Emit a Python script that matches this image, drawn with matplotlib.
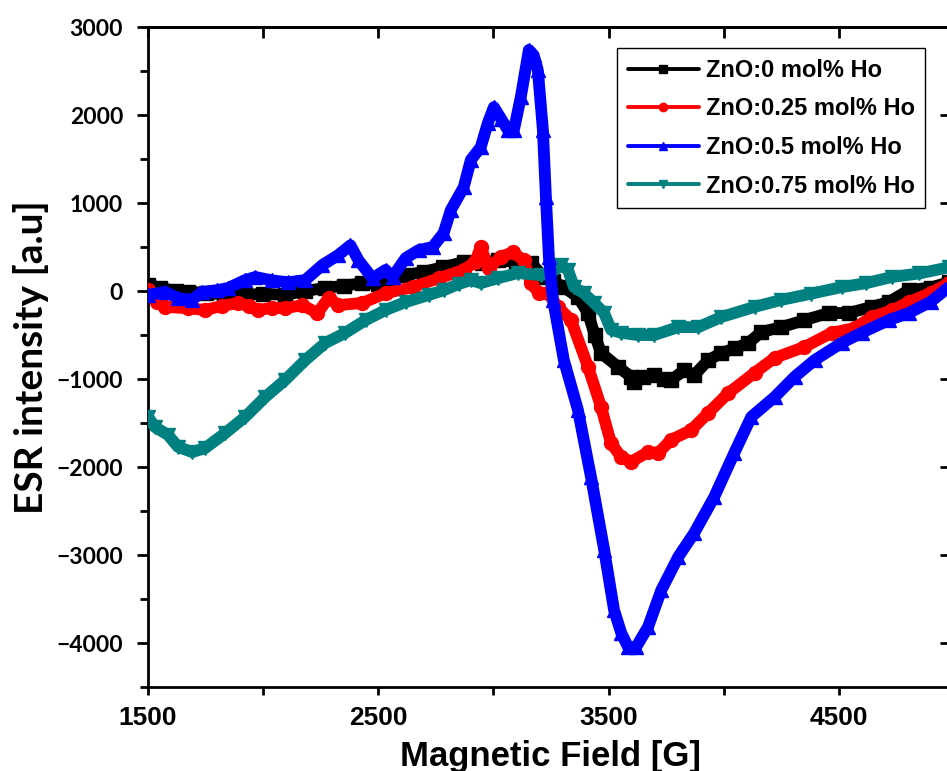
import matplotlib
matplotlib.use("Agg")
import matplotlib.pyplot as plt
from matplotlib.ticker import MultipleLocator, FixedLocator

# ESR spectra, values
x_0 = [1500, 1550, 1620, 1674, 1750, 1830, 1922, 2000, 2096, 2180, 2270, 2350,
       2431, 2500, 2560, 2619, 2700, 2780, 2871, 2950, 3019, 3100, 3163, 3219,
       3260, 3306, 3367, 3411, 3440, 3468, 3541, 3598, 3611, 3650, 3698, 3740,
       3772, 3829, 3872, 3933, 3990, 4050, 4107, 4164, 4251, 4351, 4456, 4543,
       4643, 4717, 4804, 4900, 4978]
y_0 = [70, 40, 0, -10, -20, -40, -45, -30, -45, 0, 35, 60,
       90, 80, 130, 180, 220, 270, 330, 320, 350, 330, 320, 160,
       110, 45, -70, -250, -500, -705, -860, -975, -1035, -980, -955, -1000,
       -1010, -900, -955, -785, -705, -650, -590, -465, -410, -330, -250, -250,
       -180, -125, 10, 40, 100]

x_25 = [1500, 1540, 1574, 1674, 1748, 1820, 1892, 1940, 1979, 2040, 2096, 2170,
        2236, 2284, 2327, 2431, 2532, 2649, 2762, 2871, 2920, 2945, 2980, 3032,
        3084, 3132, 3163, 3198, 3237, 3280, 3337, 3411, 3468, 3511, 3555, 3598,
        3672, 3716, 3772, 3859, 3933, 4020, 4134, 4221, 4351, 4469, 4569, 4643,
        4730, 4804, 4900, 4978]
y_25 = [10, -120, -180, -195, -215, -170, -135, -170, -215, -190, -195, -160,
        -250, -80, -160, -135, -25, 45, 145, 240, 330, 500, 260, 390,
        440, 350, 90, -25, -25, -180, -330, -860, -1320, -1730, -1885, -1940,
        -1830, -1840, -1690, -1580, -1385, -1160, -930, -760, -635, -475, -420, -295,
        -220, -125, -20, 90]

x_50 = [1500, 1574, 1630, 1692, 1735, 1800, 1848, 1922, 1966, 2040, 2109, 2183,
        2257, 2327, 2379, 2414, 2475, 2532, 2562, 2619, 2675, 2736, 2784, 2815,
        2871, 2902, 2945, 2976, 3002, 3035, 3063, 3089, 3119, 3154, 3175, 3193,
        3215, 3228, 3241, 3259, 3306, 3367, 3424, 3481, 3524, 3555, 3585, 3620,
        3672, 3729, 3803, 3872, 3959, 4046, 4120, 4221, 4308, 4395, 4512, 4599,
        4717, 4804, 4900, 4978]
y_50 = [-45, -10, -80, -100, -10, 10, 35, 125, 160, 120, 100, 125,
        295, 410, 520, 350, 145, 240, 160, 375, 465, 500, 660, 920,
        1180, 1490, 1635, 1910, 2090, 1950, 1830, 1830, 2205, 2740, 2680, 2510,
        1830, 1070, 385, -100, -785, -1350, -2115, -2940, -3625, -3885, -4045, -4045,
        -3815, -3400, -3020, -2750, -2340, -1840, -1430, -1205, -975, -785, -590, -475,
        -330, -250, -120, 45]

x_75 = [1500, 1530, 1587, 1630, 1692, 1748, 1835, 1922, 2009, 2096, 2183, 2270,
        2357, 2445, 2532, 2619, 2719, 2784, 2850, 2902, 2945, 3019, 3106, 3206,
        3250, 3293, 3324, 3350, 3393, 3437, 3481, 3511, 3555, 3628, 3698, 3803,
        3890, 3990, 4134, 4251, 4380, 4512, 4620, 4730, 4850, 4978]
y_75 = [-1430, -1545, -1635, -1770, -1830, -1785, -1615, -1430, -1205, -1010, -785, -590,
        -475, -330, -215, -125, -45, 10, 80, 125, 90, 145, 205, 180,
        205, 295, 240, 45, -25, -135, -250, -440, -475, -500, -500, -410,
        -410, -295, -180, -100, -30, 45, 90, 160, 200, 270]

labels = ["ZnO:0 mol% Ho", "ZnO:0.25 mol% Ho", "ZnO:0.5 mol% Ho", "ZnO:0.75 mol% Ho"]
colors = ["black", "#ff0000", "#0000ff", "#008080"]
markers = ["s", "o", "^", "v"]

fig = plt.figure(figsize=(9.47, 7.71), dpi=100)
ax = fig.add_axes([0.1563, 0.1089, 0.851, 0.856])

series = [(x_0, y_0), (x_25, y_25), (x_50, y_50), (x_75, y_75)]
zs = [2, 3, 5, 4]
for (xs, ys), lab, c, m, z in zip(series, labels, colors, markers, zs):
    ax.plot(xs, ys, color=c, lw=8.5, marker=m, ms=10, mec=c, mfc=c,
            label=lab, zorder=z, solid_joinstyle="round", solid_capstyle="round")

ax.set_xlim(1500, 5000)
ax.set_ylim(-4500, 3000)

# bottom / left ticks point out, top / right point in (Origin style)
ax.xaxis.set_major_locator(FixedLocator([1500, 2500, 3500, 4500]))
ax.xaxis.set_minor_locator(FixedLocator([2000, 3000, 4000, 5000]))
ax.yaxis.set_major_locator(MultipleLocator(1000))
ax.yaxis.set_minor_locator(MultipleLocator(500))
ax.tick_params(axis="x", which="both", direction="out", length=6, width=2,
               pad=8, top=False)
ax.tick_params(axis="y", which="major", direction="out", length=8, width=2, pad=10)
ax.tick_params(axis="y", which="minor", direction="out", length=6, width=2)

for lbl in ax.get_xticklabels():
    lbl.set_fontfamily(["Liberation Sans Narrow", "Liberation Sans"])
    lbl.set_fontweight("bold")
    lbl.set_fontsize(19)
for lbl in ax.get_yticklabels():
    lbl.set_fontfamily("Lato")
    lbl.set_fontweight("bold")
    lbl.set_fontsize(16.5)

axt = ax.secondary_xaxis("top")
axt.xaxis.set_major_locator(MultipleLocator(500))
axt.tick_params(direction="in", length=8, width=2, labeltop=False)
axt.set_xticklabels([])
axr = ax.secondary_yaxis("right")
axr.yaxis.set_major_locator(MultipleLocator(1000))
axr.yaxis.set_minor_locator(MultipleLocator(500))
axr.tick_params(which="major", direction="in", length=10, width=2, labelright=False)
axr.tick_params(which="minor", direction="in", length=5, width=1)
axr.set_yticklabels([])

for sp in ax.spines.values():
    sp.set_linewidth(2)
axt.spines["top"].set_linewidth(2)
axr.spines["right"].set_linewidth(2)

ax.set_xlabel("Magnetic Field [G]", fontsize=25, fontweight="bold",
              family=["Liberation Sans Narrow", "Liberation Sans"])
ax.xaxis.set_label_coords(0.5, -0.08)
ax.set_ylabel("ESR intensity [a.u]", fontsize=28, fontweight="bold", family="Lato")
ax.yaxis.set_label_coords(-0.123, 0.5)

leg = ax.legend(loc="upper left", bbox_to_anchor=(0.582, 0.968), borderaxespad=0,
                frameon=True, fancybox=False, edgecolor="black", framealpha=1,
                handlelength=3.0, handletextpad=0.3, labelspacing=0.66,
                borderpad=0.45, prop={"family": "Liberation Sans", "weight": "bold",
                                      "size": 17})
leg.get_frame().set_linewidth(1.0)
for ln in leg.get_lines():
    ln.set_linewidth(2.8)
    ln.set_markersize(6)

fig.savefig("out.png", dpi=100)
